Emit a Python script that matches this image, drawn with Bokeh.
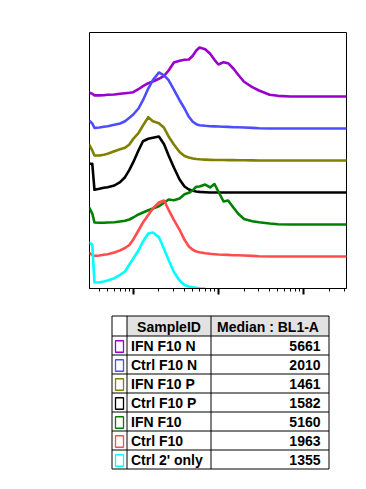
import math
from bokeh.plotting import figure
from bokeh.layouts import column
from bokeh.models import Range1d, FixedTicker
from bokeh.embed import file_html
from bokeh.resources import INLINE
from bokeh.core.properties import value

# ---------------- data ----------------
# BL1-A channel values (x) shared by all histograms
bl1a = [300, 330, 350, 400, 450, 500, 600, 700, 800, 900,
        1000, 1150, 1300, 1500, 1700, 2000, 2300, 2600, 3000, 3500,
        4000, 4500, 5000, 5500, 6000, 7000, 8000, 9000, 10000, 11500,
        13000, 15000, 17000, 20000, 25000, 30000, 40000, 50000, 70000, 100000,
        330000]

nan = float("nan")
# normalized counts (% of mode) per sample
ifn_f10_n = [7, 5, 2, 2, 2.3, 3, 3.6, 4.8, 5.9, 6.6,
             7.7, 13, 18.4, 23.8, 26.8, 31.6, 37, 46.4, 60.7, 63.8,
             65.5, 66.1, 72.7, 82.1, 87.5, 84.5, 76.3, 65.5, 57.1, 61.3,
             59.5, 50, 39.3, 26.3, 16.6, 10.7, 3, 1.2, 0, 0,
             0]
ctrl_f10_n = [14.8, 8.9, 1.2, 1.8, 3, 4.1, 6.6, 8.9, 13, 19.1,
              25, 35.7, 50.5, 71.4, 86.3, 100, 95, 86.3, 69.6, 50.5,
              35.7, 20.9, 12, 7.7, 5.9, 4.8, 4.1, 3.8, 3.6, 3.2,
              2.9, 2.3, 2.1, 1.8, 1.2, 0.5, 0, 0, 0, 0,
              0]
ifn_f10_p = [29.8, 17.9, 8.9, 8.9, 10.2, 12, 16.6, 20.2, 22.7, 28.6,
             38.8, 48.8, 62.5, 77.3, 70.2, 66.6, 58.4, 42.9, 28.6, 15.2,
             8, 5.4, 3.6, 2.7, 2.1, 1.6, 1.2, 1, 0.9, 0.8,
             0.7, 0.6, 0.5, 0.4, 0.3, 0, 0, 0, 0, 0,
             0]
ctrl_f10_p = [51.3, 51.3, 4.8, 6.6, 8.4, 9.5, 12.5, 18.4, 27.3, 40.5,
              54.1, 75, 91.6, 95.9, 97.7, 100, 86, 66, 44.6, 23.2,
              10.7, 5.4, 3, 1.8, 1.1, 0.5, 0, 0, 0, 0,
              0, 0, 0, 0, 0, 0, 0, 0, 0, 0,
              0]
ifn_f10 = [31.6, 19.6, 3.6, 3, 3, 3.6, 4.1, 5.4, 6.6, 8.9,
           12.5, 17.9, 21.4, 25.5, 28.6, 32.7, 38.8, 44.6, 43.4, 46.4,
           54.1, 56.6, 61.3, 67.3, 67.9, 71.4, 66.1, 72.3, 58.9, 41.1,
           42.9, 30.4, 19.6, 9.8, 5.9, 4.1, 1.8, 0.5, 0, 0,
           0]
ctrl_f10 = [7.1, 2.7, 1.2, 1.8, 3, 4.1, 7.1, 11, 15.2, 20.5,
            30.4, 46.4, 60.7, 74.1, 85.7, 96.4, 100, 83.4, 65.5, 47.7,
            29.8, 17.9, 12, 8.9, 7.7, 5.9, 4.8, 4.1, 3.6, 3.2,
            2.9, 2.3, 2.1, 1.8, 1.1, 0.5, 0, 0, 0, 0,
            0]
ctrl_2only = [82.1, 78.6, 10.7, 11.3, 12.5, 14.3, 18.4, 24.5, 30.4, 42.9,
              53.6, 67.9, 83.9, 98.2, 100, 92, 70.5, 50.9, 29.5, 14.3,
              6.3, 3.6, 2.1, 1.2, 0.5, 0, nan, nan, nan, nan,
              nan, nan, nan, nan, nan, nan, nan, nan, nan, nan,
              nan]

sample_ids = ["IFN F10 N", "Ctrl F10 N", "IFN F10 P", "Ctrl F10 P",
              "IFN F10", "Ctrl F10", "Ctrl 2' only"]
medians = [5661, 2010, 1461, 1582, 5160, 1963, 1355]
colors = ["#9900cc", "#4d4dff", "#808000", "#000000",
          "#008000", "#ff4d4d", "#00ffff"]
series = [ifn_f10_n, ctrl_f10_n, ifn_f10_p, ctrl_f10_p,
          ifn_f10, ctrl_f10, ctrl_2only]

major_ticks = [1000, 10000, 100000]

# ---------------- layout constants (page pixels) ----------------
FIG_W = 358
BORDER_L, BORDER_R = 89, 12
TOP_H = 305

# ---------------- histogram overlay ----------------
OFFSET = 100 * 32 / 56.0          # vertical offset between histograms
n = len(series)

p = figure(x_axis_type="log", x_range=Range1d(306, 320000),
           y_range=Range1d(0, (n + 1) * OFFSET),
           width=FIG_W, height=TOP_H,
           min_border_left=BORDER_L, min_border_right=BORDER_R,
           min_border_top=32, min_border_bottom=TOP_H - 32 - 256,
           y_axis_location=None,
           output_backend="svg", toolbar_location=None)
p.xgrid.visible = False
p.ygrid.visible = False
p.outline_line_color = "black"
p.outline_line_width = 1
p.outline_line_alpha = 1
p.background_fill_color = "white"
p.border_fill_color = "white"

for i, (vals, col) in enumerate(zip(series, colors)):
    off = (n - 1 - i) * OFFSET
    ys = [off + v for v in vals]
    p.line(bl1a, ys, line_color=col, line_width=2.6, line_join="round")

minor = [m * 10 ** e for e in (2, 3, 4, 5) for m in range(2, 10)
         if 306 <= m * 10 ** e <= 320000]
p.xaxis.ticker = FixedTicker(ticks=major_ticks, minor_ticks=minor)
p.xaxis.major_tick_out = 6
p.xaxis.major_tick_in = 0
p.xaxis.major_tick_line_width = 2
p.xaxis.minor_tick_out = 3
p.xaxis.minor_tick_in = 0
p.xaxis.minor_tick_line_width = 1
p.xaxis.axis_line_color = "black"
p.xaxis.major_label_overrides = {1000: "", 10000: "", 100000: ""}
p.xaxis.major_label_text_font_size = "2px"
p.xaxis.major_label_standoff = 0

# ---------------- statistics table ----------------
# its frame is aligned with the histogram frame by the column layout,
# so the ranges are set to page pixel coordinates
TH = 175
t = figure(width=FIG_W, height=TH,
           x_range=Range1d(BORDER_L, FIG_W - BORDER_R),
           y_range=Range1d(TOP_H + TH, TOP_H),
           min_border_left=BORDER_L, min_border_right=BORDER_R,
           min_border_top=0, min_border_bottom=0,
           x_axis_location=None, y_axis_location=None,
           output_backend="svg", toolbar_location=None)
t.xgrid.visible = False
t.ygrid.visible = False
t.outline_line_color = None
t.background_fill_color = "white"
t.border_fill_color = "white"

col_x = [111.5, 126.5, 210.5, 328.5]
top_y = 315.5
head_h = 20
row_h = 19
bottom_y = top_y + head_h + row_h * n

t.quad(left=[col_x[1]], right=[col_x[3]], top=[top_y], bottom=[top_y + head_h],
       fill_color="#e2e2e2", line_color=None)

hy = [top_y, top_y + head_h] + [top_y + head_h + row_h * (k + 1) for k in range(n)]
t.segment(x0=[col_x[0]] * len(hy), x1=[col_x[3]] * len(hy), y0=hy, y1=hy,
          line_color="black", line_width=1)
t.segment(x0=col_x, x1=col_x, y0=[top_y] * 4, y1=[bottom_y] * 4,
          line_color="black", line_width=1)

font = value("Liberation Sans")
t.text(x=[(col_x[1] + col_x[2]) / 2, (col_x[2] + col_x[3]) / 2 - 2],
       y=[top_y + head_h / 2 + 0.5] * 2,
       text=["SampleID", "Median : BL1-A"],
       text_font=font, text_font_style="bold", text_font_size="14px",
       text_align="center", text_baseline="middle", text_color="black")

row_c = [top_y + head_h + row_h * (k + 0.5) + 0.5 for k in range(n)]
t.text(x=[col_x[1] + 4] * n, y=row_c, text=sample_ids,
       text_font=font, text_font_style="bold", text_font_size="14px",
       text_align="left", text_baseline="middle", text_color="black")
t.text(x=[col_x[3] - 8.5] * n, y=row_c, text=[str(m) for m in medians],
       text_font=font, text_font_style="bold", text_font_size="14px",
       text_align="right", text_baseline="middle", text_color="black")
t.rect(x=[(col_x[0] + col_x[1]) / 2] * n, y=[c + 0.5 for c in row_c],
       width=8, height=11.5, fill_color=None, line_color=colors, line_width=1.3)

layout = column(p, t, spacing=0)
open("out.html", "w").write(file_html(layout, INLINE))
